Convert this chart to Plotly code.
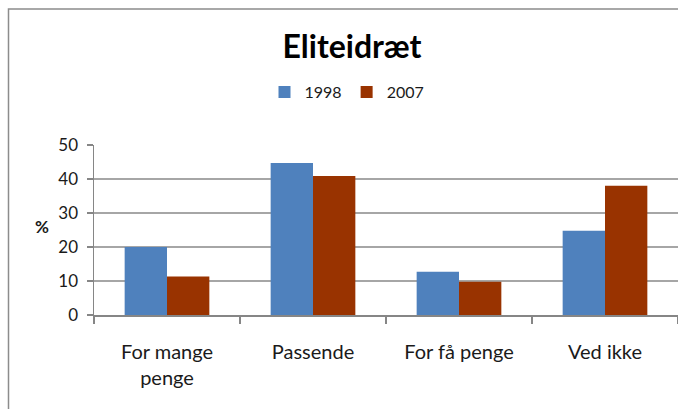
import plotly.graph_objects as go

categories = ["For mange<br>penge", "Passende", "For få penge", "Ved ikke"]
years = ["1998", "2007"]
values_1998 = [20, 44.7, 12.7, 24.8]
values_2007 = [11.3, 40.9, 9.8, 38]
colors = ["#4F81BD", "#993300"]
y_ticks = [0, 10, 20, 30, 40, 50]

FONT = "Lato"
W, H = 678, 409
PL, PT, PB = 94, 145, 315   # plot area in page px
PW, PH = W - PL, PB - PT


def px_x(x):
    return (x - PL) / PW


def px_y(y):
    return (PB - y) / PH


fig = go.Figure()
for name, vals, col in zip(years, [values_1998, values_2007], colors):
    fig.add_trace(go.Bar(x=categories, y=vals, name=name, marker_color=col,
                         marker_line_width=0))

fig.update_layout(
    width=W, height=H,
    margin=dict(l=PL, r=0, t=PT, b=H - PB, pad=0),
    paper_bgcolor="white", plot_bgcolor="white",
    barmode="group", bargap=0.42, bargroupgap=0,
    font=dict(family=FONT, color="#1a1a1a"),
    title=dict(text="<b>Eliteidræt</b>", x=352 / W, xanchor="center",
               y=1 - 47 / H, yanchor="middle",
               font=dict(family=FONT, size=32, color="black")),
    legend=dict(orientation="h", x=px_x(347), xanchor="center", y=px_y(92),
                yanchor="middle", font=dict(family=FONT, size=16, color="#1a1a1a"),
                itemwidth=30, tracegroupgap=0, bgcolor="rgba(0,0,0,0)"),
    showlegend=True,
)

fig.update_yaxes(range=[0, 50], tickvals=y_ticks, showgrid=True,
                 gridcolor="#a6a6a6", gridwidth=1.5, zeroline=False,
                 showline=True, linecolor="#868686", linewidth=1.5,
                 ticks="outside", ticklen=6, tickcolor="#868686", tickwidth=1.5,
                 tickfont=dict(family=FONT, size=17, color="#1a1a1a"),
                 ticklabelstandoff=5, fixedrange=True)
fig.update_xaxes(showline=True, linecolor="#868686", linewidth=1.5,
                 ticks="outside", tickson="boundaries", ticklen=7,
                 tickcolor="#868686", tickwidth=1.5, showgrid=False,
                 tickfont=dict(family=FONT, size=20, color="#1a1a1a"),
                 ticklabelstandoff=18, fixedrange=True)

fig.add_annotation(text="<b>%</b>", xref="paper", yref="paper",
                   x=px_x(42), y=px_y(226), showarrow=False,
                   xanchor="center", yanchor="middle",
                   font=dict(family=FONT, size=17, color="#1a1a1a"))

# outer chart-area frame: left and top edges only (right/bottom lie off-page)
fx0, fy0 = px_x(8.5), px_y(9)
fig.add_shape(type="path", xref="paper", yref="paper",
              path=f"M {fx0},{px_y(420)} L {fx0},{fy0} L {px_x(690)},{fy0}",
              line=dict(color="#8c8c8c", width=1.5), layer="below")

fig.write_html(
    "out.html",
    config={"displayModeBar": False, "staticPlot": True},
    post_script=("document.documentElement.style.margin='0';"
                 "document.documentElement.style.overflow='hidden';"
                 "document.body.style.margin='0';"
                 "document.body.style.overflow='hidden';"),
)
